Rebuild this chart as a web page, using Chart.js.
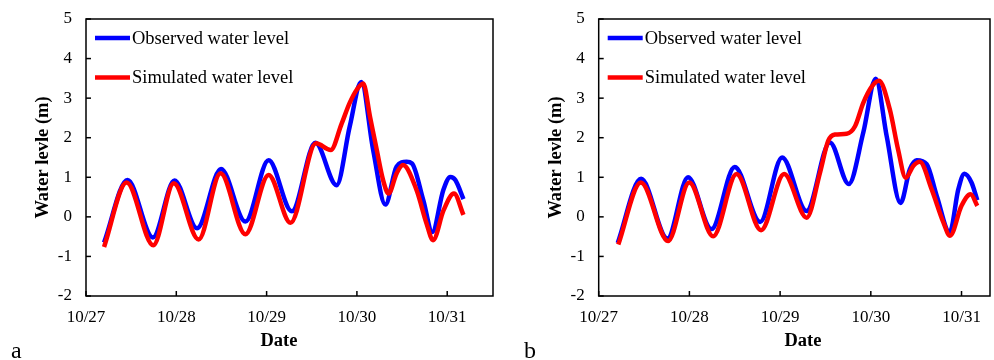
<!DOCTYPE html>
<html>
<head>
<meta charset="utf-8">
<script src="https://cdn.jsdelivr.net/npm/chart.js@4.4.1/dist/chart.umd.min.js"></script>
<style>
body{margin:0;background:#fff;width:994px;height:360px;position:relative;overflow:hidden;font-family:"Liberation Serif",serif;color:#000}
.pane{position:absolute;top:0;width:497px;height:360px}
.letter{position:absolute;top:338px;font-size:24px;line-height:24px}
.xtitle{position:absolute;top:330px;font-size:18.5px;line-height:20px;font-weight:bold;transform:translateX(-50%)}
</style>
</head>
<body>
<div class="pane" style="left:0"><canvas id="chartA" width="497" height="360"></canvas></div>
<div class="pane" style="left:497px"><canvas id="chartB" width="497" height="360"></canvas></div>
<div class="xtitle" style="left:279px">Date</div>
<div class="xtitle" style="left:803px">Date</div>
<div class="letter" style="left:11px">a</div>
<div class="letter" style="left:524px">b</div>
<script>
// x = days after 10/27 00:00, y = water level (m)
let dateLabels = ['10/27', '10/28', '10/29', '10/30', '10/31'];

// panel a
let obsTimeA  = [0.20, 0.46, 0.74, 0.98, 1.23, 1.495, 1.765, 2.022, 2.28, 2.54, 2.775, 2.92, 3.048, 3.18, 3.315, 3.44, 3.55, 3.61, 3.735, 3.835, 3.957, 4.035, 4.09, 4.18];
let obsLevelA = [-0.65, 0.93, -0.52, 0.92, -0.29, 1.21, -0.12, 1.43, 0.14, 1.87, 0.80, 2.28, 3.41, 1.69, 0.31, 1.27, 1.39, 1.35, 0.42, -0.38, 0.68, 1.01, 0.93, 0.45];
let simTimeA  = [0.20, 0.45, 0.745, 0.972, 1.247, 1.49, 1.765, 2.022, 2.265, 2.547, 2.71, 2.83, 2.92, 3.0, 3.07, 3.145, 3.22, 3.29, 3.35, 3.44, 3.51, 3.66, 3.77, 3.843, 3.96, 4.075, 4.18];
let simLevelA = [-0.76, 0.87, -0.72, 0.85, -0.57, 1.10, -0.44, 1.06, -0.15, 1.86, 1.69, 2.35, 2.88, 3.22, 3.37, 2.53, 1.69, 0.93, 0.59, 1.10, 1.31, 0.68, -0.16, -0.59, 0.17, 0.59, 0.05];

// panel b
let obsTimeB  = [0.21, 0.468, 0.757, 0.985, 1.243, 1.5, 1.78, 2.022, 2.291, 2.549, 2.757, 2.917, 3.054, 3.175, 3.328, 3.43, 3.506, 3.616, 3.727, 3.87, 3.965, 4.032, 4.11, 4.174];
let obsLevelB = [-0.66, 0.96, -0.55, 1.00, -0.31, 1.26, -0.13, 1.50, 0.15, 1.88, 0.83, 2.13, 3.49, 2.04, 0.35, 1.20, 1.43, 1.33, 0.53, -0.39, 0.70, 1.09, 0.87, 0.42];
let simTimeB  = [0.216, 0.465, 0.765, 0.998, 1.262, 1.52, 1.79, 2.044, 2.293, 2.44, 2.53, 2.605, 2.734, 2.826, 2.917, 3.01, 3.09, 3.21, 3.30, 3.385, 3.47, 3.54, 3.67, 3.80, 3.873, 4.0, 4.10, 4.174];
let simLevelB = [-0.70, 0.87, -0.61, 0.87, -0.49, 1.08, -0.34, 1.08, -0.02, 1.12, 1.92, 2.08, 2.10, 2.29, 2.88, 3.29, 3.44, 2.71, 1.71, 0.99, 1.29, 1.39, 0.70, -0.14, -0.48, 0.28, 0.57, 0.28];

function pts(t, v) {
    return t.map((x, i) => ({x: x, y: v[i]}));
}

// box, inward ticks on both axes and legend inside the plot
let frame = {
    id: 'frame',
    afterDraw(chart) {
        let ctx = chart.ctx, a = chart.chartArea, xs = chart.scales.x, ys = chart.scales.y;
        ctx.save();
        ctx.strokeStyle = '#000';
        ctx.lineWidth = 1.5;
        ctx.strokeRect(a.left, a.top, a.right - a.left, a.bottom - a.top);
        xs.ticks.forEach(t => {
            let px = xs.getPixelForValue(t.value);
            ctx.beginPath();
            ctx.moveTo(px, a.bottom);
            ctx.lineTo(px, a.bottom - 5);
            ctx.stroke();
        });
        ys.ticks.forEach(t => {
            let py = ys.getPixelForValue(t.value);
            ctx.beginPath();
            ctx.moveTo(a.left, py);
            ctx.lineTo(a.left + 5, py);
            ctx.stroke();
        });
        ctx.font = '18.5px "Liberation Serif"';
        ctx.textBaseline = 'middle';
        ctx.fillStyle = '#000';
        chart.data.datasets.forEach((d, i) => {
            let y = a.top + 19 + i * 39.5;
            ctx.strokeStyle = d.borderColor;
            ctx.lineWidth = 4.5;
            ctx.beginPath();
            ctx.moveTo(a.left + 9, y);
            ctx.lineTo(a.left + 44, y);
            ctx.stroke();
            ctx.fillText(d.label, a.left + 46, y + 1);
        });
        ctx.restore();
    }
};

function makeChart(id, obsT, obsV, simT, simV, xMax, padLeft) {
    let tickFont = {family: 'Liberation Serif', size: 17};
    return new Chart(document.getElementById(id), {
        type: 'line',
        data: {
            datasets: [
                {label: 'Observed water level', data: pts(obsT, obsV), borderColor: '#0000ff', borderWidth: 4.5,
                 pointRadius: 0, cubicInterpolationMode: 'monotone', order: 1},
                {label: 'Simulated water level', data: pts(simT, simV), borderColor: '#ff0000', borderWidth: 4.5,
                 pointRadius: 0, cubicInterpolationMode: 'monotone', order: 0}
            ]
        },
        options: {
            responsive: false,
            animation: false,
            layout: {padding: {left: padLeft, right: 4, top: 19, bottom: 0}},
            plugins: {legend: {display: false}, tooltip: {enabled: false}},
            scales: {
                x: {
                    type: 'linear', min: 0, max: xMax,
                    border: {display: false},
                    grid: {display: false, drawTicks: false},
                    ticks: {stepSize: 1, includeBounds: false, padding: 11, maxRotation: 0, color: '#000', font: tickFont,
                            callback: v => dateLabels[v]},
                    afterFit: s => { s.height = 64; }
                },
                y: {
                    min: -2, max: 5,
                    border: {display: false},
                    grid: {display: false, drawTicks: false},
                    ticks: {stepSize: 1, padding: 14, color: '#000', font: tickFont},
                    title: {display: true, text: 'Water levle (m)', color: '#000',
                            font: {family: 'Liberation Serif', size: 18.5, weight: 'bold'}, padding: {top: 32, bottom: 0}},
                    afterFit: s => { s.width = 86; s.paddingTop = 10; s.paddingBottom = 10; }
                }
            }
        },
        plugins: [frame]
    });
}

makeChart('chartA', obsTimeA, obsLevelA, simTimeA, simLevelA, 4.507, 0);
makeChart('chartB', obsTimeB, obsLevelB, simTimeB, simLevelB, 4.314, 15.7);
</script>
</body>
</html>
